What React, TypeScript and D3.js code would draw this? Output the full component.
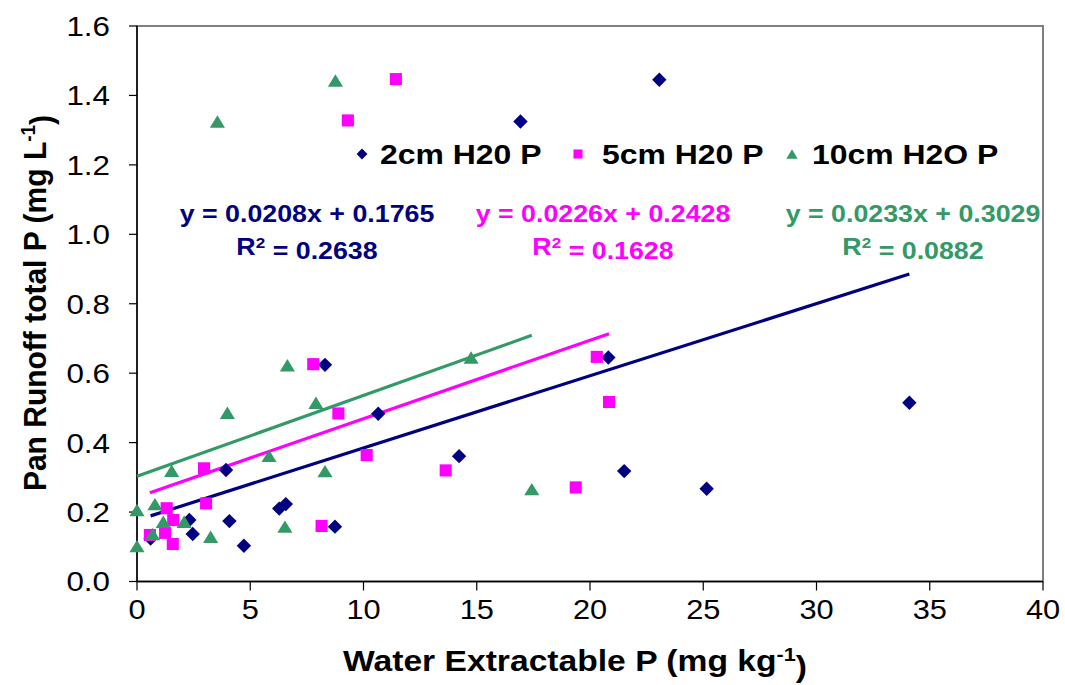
import React from "react";
import * as d3 from "d3";

// ---------- data ----------
const xTicks = [0, 5, 10, 15, 20, 25, 30, 35, 40];
const yTicks = [0, 0.2, 0.4, 0.6, 0.8, 1.0, 1.2, 1.4, 1.6];

const seriesNames = ["2cm H20 P", "5cm H20 P", "10cm H2O P"];
const seriesColors = ["#000080", "#FF00FF", "#339966"];
const seriesShapes = ["diamond", "square", "triangle"];

const cm2X = [23.06, 16.93, 34.1, 20.81, 8.3, 10.65, 14.22, 21.51, 25.15, 3.93, 2.31, 2.46, 4.08, 4.72, 0.6, 6.28, 6.57, 8.74];
const cm2Y = [1.445, 1.325, 0.515, 0.645, 0.624, 0.483, 0.361, 0.318, 0.267, 0.321, 0.177, 0.137, 0.174, 0.103, 0.124, 0.21, 0.223, 0.158];

const cm5X = [11.43, 9.31, 7.78, 20.3, 20.84, 8.89, 10.14, 13.63, 19.37, 8.15, 2.96, 3.05, 1.31, 1.6, 1.24, 1.58, 0.57];
const cm5Y = [1.447, 1.328, 0.626, 0.647, 0.517, 0.484, 0.364, 0.32, 0.271, 0.16, 0.326, 0.225, 0.211, 0.177, 0.14, 0.108, 0.134];

const cm10X = [8.76, 3.55, 14.75, 6.64, 7.9, 3.99, 5.83, 8.3, 17.43, 1.53, 0, 0, 0.79, 0.69, 1.16, 2.08, 3.25, 6.53];
const cm10Y = [1.443, 1.325, 0.645, 0.623, 0.515, 0.486, 0.362, 0.318, 0.266, 0.319, 0.206, 0.102, 0.223, 0.137, 0.172, 0.172, 0.129, 0.158];

const trendSlopes = [0.0208, 0.0226, 0.0233];
const trendIntercepts = [0.1765, 0.2428, 0.3029];
const trendR2 = ["0.2638", "0.1628", "0.0882"];

// ---------- layout ----------
const W = 1065;
const H = 685;
const PL = 137;
const PR = 1043;
const PT = 26;
const PB = 581.5;
const FONT = "'Liberation Sans', Arial, Helvetica, sans-serif";
const SX = 1.14; // horizontal stretch of text in the reference

const eqCenters = [307, 603, 913];
const legendMarkX = [362, 578, 792];
const legendTextX = [380, 602, 812];

function markerPath(shape: string, s: number): string {
  if (shape === "diamond") return `M0,${-s}L${s},0L0,${s}L${-s},0Z`;
  if (shape === "square") {
    const h = s * 0.84;
    return `M${-h},${-h}H${h}V${h}H${-h}Z`;
  }
  const hw = s * 1.05;
  const hh = s * 0.86;
  return `M0,${-hh}L${hw},${hh}L${-hw},${hh}Z`;
}

export default function App() {
  const x = d3.scaleLinear().domain([0, 40]).range([PL, PR]);
  const y = d3.scaleLinear().domain([0, 1.6]).range([PB, PT]);

  const allX = [cm2X, cm5X, cm10X];
  const allY = [cm2Y, cm5Y, cm10Y];

  const line = d3
    .line<[number, number]>()
    .x((d) => x(d[0]))
    .y((d) => y(d[1]));

  return (
    <svg
      width={W}
      height={H}
      style={{ position: "absolute", left: 0, top: 0, background: "#fff" }}
      fontFamily={FONT}
    >
      <rect x={0} y={0} width={W} height={H} fill="#fff" />
      {/* plot area border */}
      <rect x={PL} y={PT} width={PR - PL} height={PB - PT} fill="none" stroke="#808080" strokeWidth={2} />

      {/* axes */}
      <line x1={PL} x2={PL} y1={PT} y2={PB} stroke="#000" strokeWidth={1.5} />
      <line x1={PL} x2={PR} y1={PB} y2={PB} stroke="#000" strokeWidth={1.5} />
      {yTicks.map((t) => (
        <g key={"yt" + t}>
          <line x1={PL - 8} x2={PL} y1={y(t)} y2={y(t)} stroke="#000" strokeWidth={1.2} />
          <g transform={`translate(110,${y(t)}) scale(${SX},1)`}>
            <text dy="0.36em" textAnchor="end" fontSize={27.5} fill="#000">
              {d3.format(".1f")(t)}
            </text>
          </g>
        </g>
      ))}
      {xTicks.map((t) => (
        <g key={"xt" + t}>
          <line x1={x(t)} x2={x(t)} y1={PB} y2={PB + 9} stroke="#000" strokeWidth={1.2} />
          <g transform={`translate(${x(t)},619) scale(${SX},1)`}>
            <text textAnchor="middle" fontSize={27} fill="#000">
              {t}
            </text>
          </g>
        </g>
      ))}

      {/* axis titles */}
      <g transform={`translate(575,671) scale(${SX},1)`}>
        <text textAnchor="middle" fontSize={29.5} fontWeight="bold" fill="#000">
          Water Extractable P (mg kg
          <tspan dy="-0.55em" fontSize={19}>-1</tspan>
          <tspan dy="0.55em">)</tspan>
        </text>
      </g>
      <g transform={`translate(46,303) scale(1.04,1) rotate(-90)`}>
        <text textAnchor="middle" fontSize={30} fontWeight="bold" fill="#000">
          Pan Runoff total P (mg L
          <tspan dy="-0.55em" fontSize={19}>-1</tspan>
          <tspan dy="0.55em">)</tspan>
        </text>
      </g>

      {/* trend lines */}
      {trendSlopes.map((m, i) => {
        const [x0, x1] = d3.extent(allX[i]) as [number, number];
        const pts: [number, number][] = [
          [x0, m * x0 + trendIntercepts[i]],
          [x1, m * x1 + trendIntercepts[i]],
        ];
        return <path key={"tl" + i} d={line(pts) || ""} stroke={seriesColors[i]} strokeWidth={3.2} fill="none" />;
      })}

      {/* points */}
      {allX.map((xs, i) => (
        <g key={"s" + i} fill={seriesColors[i]}>
          {xs.map((v, j) => (
            <path
              key={j}
              d={markerPath(seriesShapes[i], 7.2)}
              transform={`translate(${x(v)},${y(allY[i][j])})`}
            />
          ))}
        </g>
      ))}

      {/* legend */}
      {seriesNames.map((n, i) => (
        <g key={"lg" + i}>
          <path d={markerPath(seriesShapes[i], 5.4)} fill={seriesColors[i]} transform={`translate(${legendMarkX[i]},154)`} />
          <g transform={`translate(${legendTextX[i]},154) scale(${SX},1)`}>
            <text dy="0.36em" fontSize={28} fontWeight="bold" fill="#000">
              {n}
            </text>
          </g>
        </g>
      ))}

      {/* equations */}
      {trendSlopes.map((m, i) => (
        <g key={"eq" + i} fill={seriesColors[i]} fontWeight="bold" fontSize={23.5}>
          <g transform={`translate(${eqCenters[i]},222) scale(${SX},1)`}>
            <text textAnchor="middle">{`y = ${m.toFixed(4)}x + ${trendIntercepts[i].toFixed(4)}`}</text>
          </g>
          <g transform={`translate(${eqCenters[i]},255) scale(${SX},1)`}>
            <text textAnchor="middle">
              R<tspan dy="-0.5em" fontSize={15}>2</tspan>
              <tspan dy="0.5em">{` = ${trendR2[i]}`}</tspan>
            </text>
          </g>
        </g>
      ))}
    </svg>
  );
}
